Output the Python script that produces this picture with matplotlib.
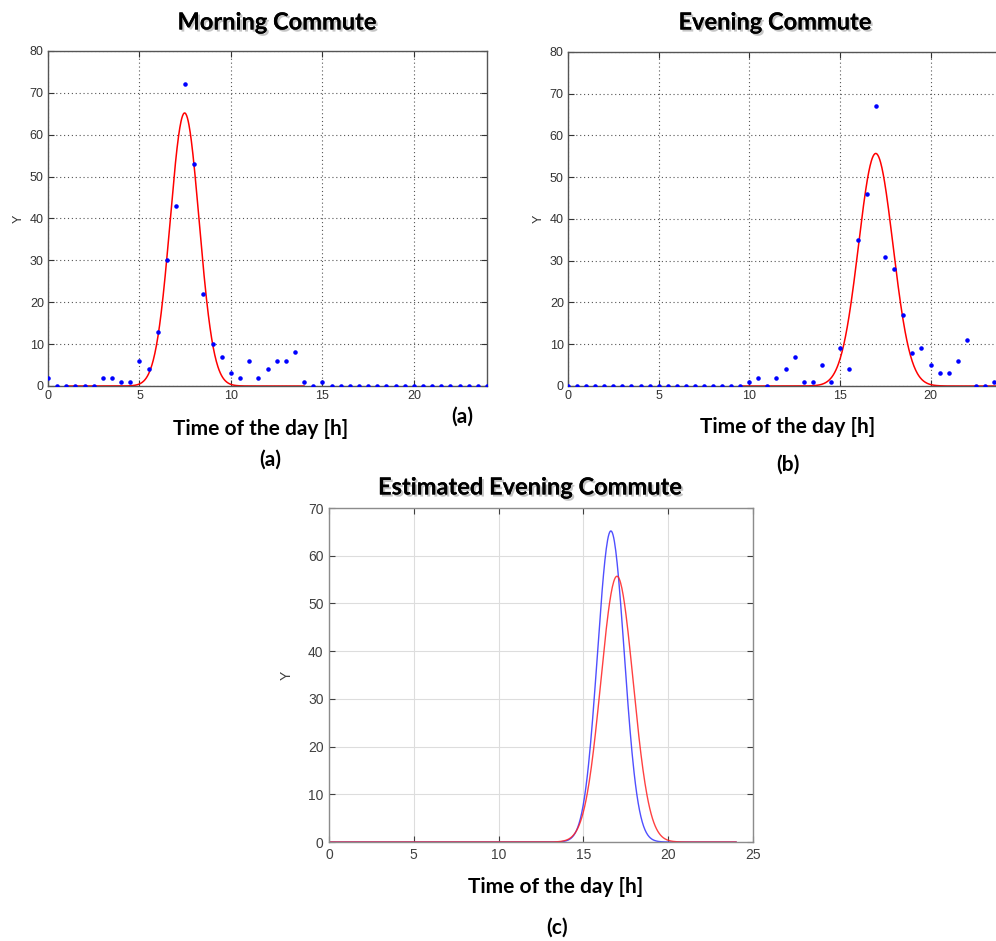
import numpy as np
import matplotlib
matplotlib.use('Agg')
import matplotlib.pyplot as plt
import matplotlib.patheffects as pe

# gemessene Werte (halbstündlich, 0..24 h)
hours = np.arange(0, 24.5, 0.5)

morning_counts = [2, 0, 0, 0, 0, 0, 2, 2, 1, 1, 6, 4, 13, 30, 43, 72, 53, 22, 10, 7,
                  3, 2, 6, 2, 4, 6, 6, 8, 1, 0, 1, 0, 0, 0, 0, 0, 0, 0, 0, 0,
                  0, 0, 0, 0, 0, 0, 0, 0, 0]
evening_counts = [0, 0, 0, 0, 0, 0, 0, 0, 0, 0, 0, 0, 0, 0, 0, 0, 0, 0, 0, 0,
                  1, 2, 0, 2, 4, 7, 1, 1, 5, 1, 9, 4, 35, 46, 67, 31, 28, 17, 8, 9,
                  5, 3, 3, 6, 11, 0, 0, 1, 1]

# angepasste Gaussglocken: Hoehe, Mitte, Breite, Bereich
morning_fit = dict(peak=65.2, mu=7.47, sigma=0.79, start=1.0, end=14.0)
evening_fit = dict(peak=55.7, mu=16.98, sigma=0.95, start=9.5, end=24.0)
estimated_fit = dict(peak=65.2, mu=16.62, sigma=0.79, start=0.0, end=24.0)
evening_fit_c = dict(peak=55.7, mu=16.98, sigma=0.95, start=0.0, end=24.0)

W, H = 996, 941
title_font = ['Lato', 'DejaVu Sans']
tick_font = ['Liberation Sans', 'DejaVu Sans']


def fit_curve(p):
    x = np.linspace(p['start'], p['end'], 600)
    y = p['peak'] * np.exp(-(x - p['mu']) ** 2 / (2 * p['sigma'] ** 2))
    return x, y


def px_axes(fig, left, top, right, bottom):
    return fig.add_axes([left / W, 1 - bottom / H, (right - left) / W, (bottom - top) / H])


def px_text(fig, x, y, s, size, **kw):
    fig.text(x / W, 1 - y / H, s, ha='center', va='center', fontsize=size,
             family=title_font, fontweight='bold', **kw)


shadow = [pe.withSimplePatchShadow(offset=(1.5, -1.5), shadow_rgbFace='gray', alpha=0.45),
          pe.Normal()]

fig = plt.figure(figsize=(W / 100, H / 100), dpi=100)


def old_style(ax, counts, fit):
    ax.plot(hours, counts, '.', color='blue', markersize=4.5, zorder=3)
    x, y = fit_curve(fit)
    ax.plot(x, y, color='red', linewidth=1.1, zorder=2)
    ax.set_xlim(0, 24)
    ax.set_ylim(0, 80)
    ax.set_xticks([0, 5, 10, 15, 20])
    ax.set_yticks(range(0, 81, 10))
    ax.grid(True, linestyle=(0, (1, 2.5)), color='#555555', linewidth=0.8)
    ax.tick_params(direction='in', length=4, top=True, right=True, labelsize=9,
                   labelcolor='#333333', color='#333333', pad=3)
    for lab in ax.get_xticklabels() + ax.get_yticklabels():
        lab.set_family(tick_font)
    for sp in ax.spines.values():
        sp.set_color('#555555')
        sp.set_linewidth(1.0)
    ax.set_ylabel('Y', fontsize=9, color='#333333', family=tick_font, labelpad=4)


ax1 = px_axes(fig, 48, 51, 487, 386)
old_style(ax1, morning_counts, morning_fit)

ax2 = px_axes(fig, 568, 52, 1003, 386)
old_style(ax2, evening_counts, evening_fit)

# unten: geschaetzte Abendspitze
ax3 = px_axes(fig, 329, 508, 753, 842)
xb, yb = fit_curve(estimated_fit)
xr, yr = fit_curve(evening_fit_c)
ax3.plot(xb, yb, color='#3030ff', linewidth=1.0, alpha=0.85)
ax3.plot(xr, yr, color='#ff2020', linewidth=1.0, alpha=0.85)
ax3.set_xlim(0, 25)
ax3.set_ylim(0, 70)
ax3.set_xticks(range(0, 26, 5))
ax3.set_yticks(range(0, 71, 10))
ax3.grid(True, color='#dddddd', linewidth=0.8)
ax3.set_axisbelow(True)
ax3.tick_params(direction='in', length=4, top=True, right=True, labelsize=10,
                labelcolor='#404040', color='#404040', pad=4)
for lab in ax3.get_xticklabels() + ax3.get_yticklabels():
    lab.set_family(tick_font)
for sp in ax3.spines.values():
    sp.set_color('#8c8c8c')
    sp.set_linewidth(1.0)
ax3.set_ylabel('Y', fontsize=10, color='#404040', family=tick_font, labelpad=10)

# Ueberschriften und Beschriftungen
px_text(fig, 277, 22, 'Morning Commute', 17, path_effects=shadow)
px_text(fig, 775, 22, 'Evening Commute', 17, path_effects=shadow)
px_text(fig, 530, 487, 'Estimated Evening Commute', 17, path_effects=shadow)

px_text(fig, 261, 429, 'Time of the day [h]', 15)
px_text(fig, 788, 427, 'Time of the day [h]', 15)
px_text(fig, 556, 887, 'Time of the day [h]', 15)

px_text(fig, 462, 417, '(a)', 15)
px_text(fig, 270, 460, '(a)', 15)
px_text(fig, 788, 465, '(b)', 15)
px_text(fig, 557, 928, '(c)', 15)

fig.savefig('out.png', dpi=100)
plt.close(fig)
